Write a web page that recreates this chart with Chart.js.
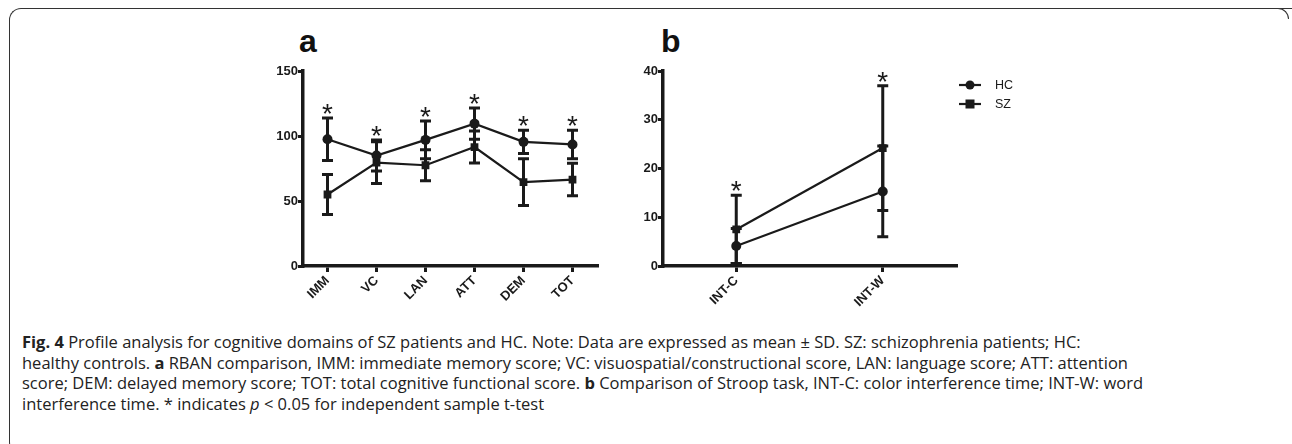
<!DOCTYPE html>
<html>
<head>
<meta charset="utf-8">
<script src="https://cdn.jsdelivr.net/npm/chart.js@4.4.1/dist/chart.umd.min.js"></script>
<style>
	html, body { margin: 0; padding: 0; background: #fff; }
	body { width: 1292px; height: 444px; position: relative; overflow: hidden; }
	.frame { position: absolute; left: 9px; top: 8px; width: 1300px; height: 444px; border-top: 1.5px solid #333; border-left: 1.5px solid #333; border-bottom: 1.5px solid #333; border-radius: 12px 0 0 12px; }
	.frame-corner { position: absolute; right: 3px; top: 8px; width: 14px; height: 10px; border-top: 1.5px solid #333; border-right: 1.5px solid #333; border-top-right-radius: 12px; background: #fff; }
	.panel-label { position: absolute; font: bold 32px Arial, "Liberation Sans", sans-serif; color: #111; line-height: 1; }
	canvas { position: absolute; }
	#caption { position: absolute; left: 22px; top: 332px; font-family: "Open Sans", sans-serif; font-size: 16.5px; line-height: 20.6px; color: #222; white-space: nowrap; }
</style>
</head>
<body>
<div class="frame"></div>
<div class="frame-corner"></div>
<div class="panel-label" style="left:299px;top:25px;">a</div>
<div class="panel-label" style="left:661px;top:25px;">b</div>
<canvas id="chart-rban" width="370" height="310" style="left:240px;top:20px;width:370px;height:310px;"></canvas>
<canvas id="chart-stroop" width="420" height="310" style="left:610px;top:20px;width:420px;height:310px;"></canvas>
<div id="caption"><b>Fig. 4</b> Profile analysis for cognitive domains of SZ patients and HC. Note: Data are expressed as mean ± SD. SZ: schizophrenia patients; HC:<br>healthy controls. <b>a</b> RBAN comparison, IMM: immediate memory score; VC: visuospatial/constructional score, LAN: language score; ATT: attention<br>score; DEM: delayed memory score; TOT: total cognitive functional score. <b>b</b> Comparison of Stroop task, INT-C: color interference time; INT-W: word<br>interference time. * indicates <i>p</i> &lt; 0.05 for independent sample t-test</div>

<script>
// RBAN domains (panel a)
var rbanLabels = ['IMM', 'VC', 'LAN', 'ATT', 'DEM', 'TOT'];
var rbanHcMean = [97.5, 85, 97, 109.5, 95.5, 93.5];
var rbanHcSd = [16.3, 12, 14.5, 12, 9, 11];
var rbanSzMean = [55, 79.5, 77.5, 91.5, 64.5, 66.5];
var rbanSzSd = [15.4, 16, 12, 12.3, 18, 12.5];
var rbanSignificant = [true, true, true, true, true, true];
var rbanTicks = [0, 50, 100, 150];

// Stroop interference (panel b)
var stroopLabels = ['INT-C', 'INT-W'];
var stroopHcMean = [4.1, 15.3];
var stroopHcSd = [3.6, 9.3];
var stroopSzMean = [7.5, 24.2];
var stroopSzSd = [7, 12.8];
var stroopSignificant = [true, true];
var stroopTicks = [0, 10, 20, 30, 40];

var seriesNames = ['HC', 'SZ'];

(function () {
	'use strict';

	var INK = '#1a1a1a';
	Chart.defaults.font.family = 'Arial, "Liberation Sans", sans-serif';
	Chart.defaults.color = INK;

	/**
	 * Error bars (mean +/- SD) under the markers
	 */
	var errorBars = {
		id: 'errorBars',
		beforeDatasetsDraw: function (chart) {
			var ctx = chart.ctx;
			var y = chart.scales.y;
			ctx.save();
			ctx.strokeStyle = INK;
			ctx.lineWidth = 3;
			chart.data.datasets.forEach(function (ds, i) {
				var meta = chart.getDatasetMeta(i);
				meta.data.forEach(function (pt, j) {
					var top = y.getPixelForValue(ds.data[j] + ds.sd[j]);
					var bot = y.getPixelForValue(Math.max(0, ds.data[j] - ds.sd[j]));
					ctx.beginPath();
					ctx.moveTo(pt.x, top);
					ctx.lineTo(pt.x, bot);
					ctx.moveTo(pt.x - 5.5, top);
					ctx.lineTo(pt.x + 5.5, top);
					ctx.moveTo(pt.x - 5.5, bot);
					ctx.lineTo(pt.x + 5.5, bot);
					ctx.stroke();
				});
			});
			ctx.restore();
		}
	};

	/**
	 * Significance asterisks above the highest cap
	 */
	var asterisks = {
		id: 'asterisks',
		afterDatasetsDraw: function (chart, args, opts) {
			var ctx = chart.ctx;
			var y = chart.scales.y;
			var x = chart.scales.x;
			ctx.save();
			ctx.fillStyle = INK;
			ctx.font = '28px Arial, "Liberation Sans", sans-serif';
			ctx.textAlign = 'center';
			ctx.textBaseline = 'alphabetic';
			opts.flags.forEach(function (flag, j) {
				if (!flag) {
					return;
				}
				var top = Infinity;
				chart.data.datasets.forEach(function (ds) {
					top = Math.min(top, y.getPixelForValue(ds.data[j] + ds.sd[j]));
				});
				ctx.fillText('*', x.getPixelForValue(j), top + 5);
			});
			ctx.restore();
		}
	};

	/**
	 * Small legend drawn to the right of the plot
	 */
	var sideLegend = {
		id: 'sideLegend',
		afterDraw: function (chart, args, opts) {
			if (!opts.show) {
				return;
			}
			var ctx = chart.ctx;
			var area = chart.chartArea;
			ctx.save();
			chart.data.datasets.forEach(function (ds, i) {
				var lx = area.right + 3;
				var ly = area.top + 14 + i * 19;
				ctx.strokeStyle = INK;
				ctx.lineWidth = 2.2;
				ctx.beginPath();
				ctx.moveTo(lx, ly);
				ctx.lineTo(lx + 22, ly);
				ctx.stroke();
				ctx.fillStyle = INK;
				if (ds.pointStyle === 'rect') {
					ctx.fillRect(lx + 11 - 4.5, ly - 4.5, 9, 9);
				} else {
					ctx.beginPath();
					ctx.arc(lx + 11, ly, 4.5, 0, Math.PI * 2);
					ctx.fill();
				}
				ctx.font = '12.5px Arial, "Liberation Sans", sans-serif';
				ctx.textBaseline = 'middle';
				ctx.textAlign = 'left';
				ctx.fillText(ds.label, lx + 36, ly + 1);
			});
			ctx.restore();
		}
	};

	function makeDataset(name, mean, sd, style) {
		return {
			label: name,
			data: mean,
			sd: sd,
			borderColor: INK,
			backgroundColor: INK,
			borderWidth: 2.2,
			tension: 0,
			pointStyle: style,
			pointRadius: style === 'rect' ? 5.5 : 5,
			pointBackgroundColor: INK,
			pointBorderColor: INK,
			pointBorderWidth: 0
		};
	}

	function buildChart(id, labels, hc, szData, ticks, flags, opts) {
		var ctx = document.getElementById(id);
		return new Chart(ctx, {
			type: 'line',
			data: {
				labels: labels,
				datasets: [
					makeDataset(seriesNames[0], hc.mean, hc.sd, 'circle'),
					makeDataset(seriesNames[1], szData.mean, szData.sd, 'rect')
				]
			},
			options: {
				responsive: false,
				animation: false,
				layout: {
					padding: { top: 51, right: opts.padRight, left: 0, bottom: 0 }
				},
				plugins: {
					legend: { display: false },
					tooltip: { enabled: false },
					asterisks: { flags: flags },
					sideLegend: { show: opts.legend }
				},
				scales: {
					x: {
						type: 'category',
						offset: true,
						afterFit: function (scale) {
							scale.height = 64;
						},
						border: { display: true, color: INK, width: 3.5 },
						grid: {
							display: true,
							drawOnChartArea: false,
							drawTicks: true,
							tickLength: 6,
							color: INK,
							lineWidth: 3
						},
						ticks: {
							autoSkip: false,
							minRotation: 45,
							maxRotation: 45,
							padding: 1,
							color: INK,
							font: { size: 13, weight: 'bold' }
						}
					},
					y: {
						min: ticks[0],
						max: ticks[ticks.length - 1],
						afterFit: function (scale) {
							scale.width = opts.axisWidth;
						},
						afterBuildTicks: function (scale) {
							scale.ticks = ticks.map(function (v) {
								return { value: v };
							});
						},
						border: { display: true, color: INK, width: 3.5 },
						grid: {
							display: true,
							drawOnChartArea: false,
							drawTicks: true,
							tickLength: 5,
							color: INK,
							lineWidth: 3
						},
						ticks: {
							padding: 0,
							color: INK,
							font: { size: 13, weight: 'bold' }
						}
					}
				}
			},
			plugins: [errorBars, asterisks, sideLegend]
		});
	}

	buildChart('chart-rban', rbanLabels,
		{ mean: rbanHcMean, sd: rbanHcSd },
		{ mean: rbanSzMean, sd: rbanSzSd },
		rbanTicks, rbanSignificant,
		{ padRight: 13, axisWidth: 63, legend: false });

	buildChart('chart-stroop', stroopLabels,
		{ mean: stroopHcMean, sd: stroopHcSd },
		{ mean: stroopSzMean, sd: stroopSzSd },
		stroopTicks, stroopSignificant,
		{ padRight: 74, axisWidth: 53, legend: true });
})();
</script>
</body>
</html>
